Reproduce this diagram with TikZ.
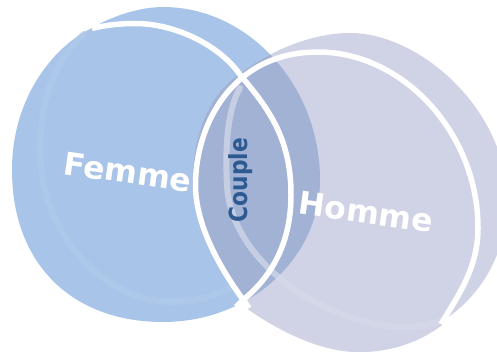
\documentclass[tikz,border=0pt]{standalone}
\usepackage{fontspec}
\setmainfont{DejaVu Sans}
\definecolor{femmeblue}{HTML}{A8C4E8}
\definecolor{hommegrey}{HTML}{CFD3E5}
\definecolor{overlapcol}{HTML}{A2B2D5}
\definecolor{femmeglow}{HTML}{B0CAEB}
\definecolor{hommeglow}{HTML}{D6DAEA}
\definecolor{coupleblue}{HTML}{2E5A92}
\tikzset{
  rim/.style={draw=white, line width=5.5pt, line cap=butt},
  glow/.style={line width=6pt, line cap=round},
  biglabel/.style={text=white, font=\bfseries\fontsize{31.5}{32}\selectfont, inner sep=0pt},
  midlabel/.style={text=coupleblue, font=\bfseries\fontsize{25}{25}\selectfont, inner sep=0pt}
}
% outlines of the two discs
\newcommand\femmebody{(92,28) .. controls (112,16) and (140,7) .. (163,7)
  .. controls (248,7) and (320,85) .. (320,180)
  .. controls (320,258) and (250,322) .. (163,322)
  .. controls (73,322) and (12,265) .. (12,170)
  .. controls (12,95) and (56,45) .. (92,28) -- cycle}
\newcommand\hommebody{(246,308) .. controls (224,279) and (192.5,230) .. (192.5,185)
  .. controls (192.5,125) and (215,88) .. (245,70)
  .. controls (270,52) and (310,33) .. (350,33)
  .. controls (420,33) and (507,110) .. (507,200)
  .. controls (507,255) and (480,295) .. (447,318)
  -- (441,326) .. controls (415,345) and (385,353) .. (355,352)
  .. controls (320,351) and (280,332) .. (246,308) -- cycle}
\begin{document}
\begin{tikzpicture}[x=1pt,y=-1pt]
\useasboundingbox (0,0) rectangle (497,351);
\clip (0,0) rectangle (497,351);

% disc bodies
\fill[femmeblue] \femmebody;
\fill[hommegrey] \hommebody;

% overlap of the two discs
\begin{scope}
  \clip \femmebody;
  \fill[overlapcol] \hommebody;
\end{scope}

% soft bevel rings on the front faces
\draw[glow, femmeglow, opacity=0.8]
  (84,34) .. controls (55,60) and (40,100) .. (40,150)
  .. controls (40,230) and (100,300) .. (170,302)
  .. controls (200,302) and (220,293) .. (230,288);
\draw[glow, hommeglow, opacity=0.7]
  (240,88) .. controls (227,110) and (225,150) .. (227,185)
  .. controls (230,250) and (300,310) .. (380,325)
  .. controls (410,330) and (430,325) .. (440,321);

% white rims
\draw[rim] (92,28.5) .. controls (106,25) and (120,23.5) .. (135,23.5)
  .. controls (175,23.5) and (220,45) .. (241,76)
  .. controls (270,110) and (291,140) .. (291,195)
  .. controls (291,245) and (270,278) .. (243,300) -- (236,307);
\draw[rim] (249,308) -- (247,305) .. controls (226,277) and (195.5,230) .. (195.5,185)
  .. controls (195.5,125) and (232,52) .. (318,52)
  .. controls (403,52) and (478,133) .. (478,228)
  .. controls (478,268) and (458,296) .. (441,324);

% labels
\node[biglabel, rotate=-8] (femme) at (128,172) {Femme};
\node[biglabel, rotate=-8] (homme) at (366,212) {Homme};
\node[midlabel, rotate=90] (couple) at (240.5,180) {\scalebox{0.87}[1]{Couple}};
\end{tikzpicture}
\end{document}
